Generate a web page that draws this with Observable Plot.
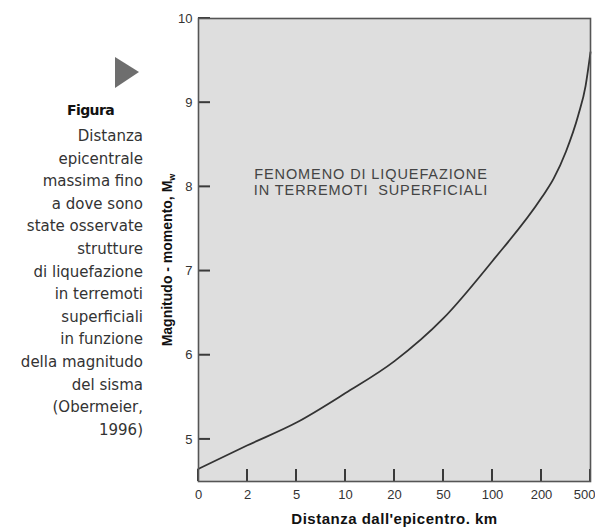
<!DOCTYPE html>
<html>
<head>
<meta charset="utf-8">
<script src="https://cdn.jsdelivr.net/npm/d3@7"></script>
<script src="https://cdn.jsdelivr.net/npm/@observablehq/plot@0.6"></script>
<style>
  html, body { margin: 0; padding: 0; background: #fff; overflow: hidden; }
  #wrap { position: relative; width: 595px; height: 532px; }
  #chart { position: absolute; left: 0; top: 0; }
  svg text { white-space: pre; }
  #caption { position: absolute; left: 0; top: 125px; width: 143px; text-align: right;
    font-family: "DejaVu Sans", sans-serif; font-size: 15px; line-height: 22.6px; color: #333; letter-spacing: 0px; }
  #fig { position: absolute; left: 67px; top: 100px; width: 50px; font-family: "DejaVu Sans", sans-serif;
    font-weight: bold; font-size: 14px; color: #111; letter-spacing: -0.6px; line-height: 20px; }
  #tri { position: absolute; left: 100px; top: 50px; }
</style>
</head>
<body>
<div id="wrap">
  <div id="chart"></div>
  <svg id="tri" width="45" height="45"><polygon points="15,7 15,38 39,22" fill="#6e6e6e"/></svg>
  <div id="fig"></div>
  <div id="caption"></div>
</div>
<script>
// ---- data ----
const xTickKm = [0, 2, 5, 10, 20, 50, 100, 200, 500];
const xTickLabels = ["0", "2", "5", "10", "20", "50", "100", "200", "500"];
const yTicks = [5, 6, 7, 8, 9, 10];
const curveKm  = [0,    2,    5,    10,   20,   50,   100,  200,  275,  350,  425,  470,  500];
const curveMag = [4.65, 4.93, 5.2,  5.55, 5.93, 6.44, 7.12, 7.87, 8.1,  8.42, 8.85, 9.2,  9.6];
const xLabel = "Distanza dall'epicentro. km";
const yLabel = "Magnitudo - momento, M";
const yLabelSub = "w";
const annotationLines = ["FENOMENO DI LIQUEFAZIONE", "IN TERREMOTI  SUPERFICIALI"];
const annotationAt = {km: 15.2, mag: 8.06};
const figTitle = "Figura";
const captionLines = ["Distanza", "epicentrale", "massima fino", "a dove sono", "state osservate",
  "strutture", "di liquefazione", "in terremoti", "superficiali", "in funzione",
  "della magnitudo", "del sisma", "(Obermeier,", "1996)"];

// evenly spaced distance axis (one step per tick value)
const pos = d3.scaleLinear().domain(xTickKm).range(xTickKm.map((_, i) => i));
const curve = curveKm.map((km, i) => ({km, mag: curveMag[i]}));
const lastPos = pos(xTickKm[xTickKm.length - 1]);
const xDom = [0, xTickKm.length - 1];
const yDom = [4.5, 10];
const W = 595, H = 532, mL = 198, mR = 5, mT = 18, mB = 51;
// tick size in px converted to scale units
const pxX = (xDom[1] - xDom[0]) / (W - mL - mR);
const pxY = (yDom[1] - yDom[0]) / (H - mT - mB);
const TICK_LEN = 12, TICK_W = 2;

// tick marks as small filled rectangles
const xTickRects = xTickKm.map(km => ({
  x1: pos(km) - pxX * TICK_W / 2, x2: pos(km) + pxX * TICK_W / 2,
  y1: yDom[0], y2: yDom[0] + pxY * TICK_LEN}));
const yTickRects = yTicks.map(m => ({
  x1: xDom[0], x2: xDom[0] + pxX * TICK_LEN,
  y1: m - pxY * TICK_W / 2, y2: m + pxY * TICK_W / 2}));

const chart = Plot.plot({
  width: W, height: H,
  marginLeft: mL, marginRight: mR, marginTop: mT, marginBottom: mB,
  x: {domain: xDom},
  y: {domain: yDom},
  style: {fontFamily: "'Liberation Sans', Arial, sans-serif", fontSize: "13px", color: "#333", background: "transparent"},
  marks: [
    Plot.frame({fill: "#dedede"}),
    Plot.line(curve, {x: d => pos(d.km), y: "mag", curve: "monotone-x", stroke: "#333", strokeWidth: 1.8}),
    Plot.text([annotationLines.join("\n")], {x: () => pos(annotationAt.km), y: () => annotationAt.mag, text: d => d,
      fontSize: 14.5, fill: "#444", lineHeight: 1.1, textAnchor: "middle"}),
    Plot.rect(xTickRects, {x1: "x1", x2: "x2", y1: "y1", y2: "y2", fill: "#3a3a3a", inset: 0}),
    Plot.rect(yTickRects, {x1: "x1", x2: "x2", y1: "y1", y2: "y2", fill: "#3a3a3a", inset: 0}),
    Plot.axisX(xTickKm.slice(0, -1).map(pos), {tickSize: 0, tickPadding: 8, tickFormat: d => xTickLabels[Math.round(d)],
      label: null, fill: "#333"}),
    Plot.axisX([lastPos], {tickSize: 0, tickPadding: 8, tickFormat: d => xTickLabels[Math.round(d)],
      label: null, fill: "#333", textAnchor: "end", dx: 5}),
    Plot.axisY(yTicks, {tickSize: 0, tickPadding: 6, tickFormat: d => String(d), label: null, fill: "#333"}),
    Plot.frame({stroke: "#555", strokeWidth: 1.6}),
    Plot.text([xLabel], {frameAnchor: "bottom", dy: 42, fontWeight: "bold", fontSize: 15, fill: "#111"}),
    Plot.text([yLabel], {frameAnchor: "left", dx: -31, dy: 10, rotate: -90, textAnchor: "middle", fontWeight: "bold", fontSize: 14,
      fill: "#111"})
  ]
});
document.getElementById("chart").appendChild(chart);

// post-styling of a few texts
for (const t of chart.querySelectorAll("text")) {
  const s = t.textContent;
  if (s === yLabel) {
    const ts = document.createElementNS("http://www.w3.org/2000/svg", "tspan");
    ts.setAttribute("dy", "0.3em");
    ts.setAttribute("font-size", "9");
    ts.textContent = yLabelSub;
    t.appendChild(ts);
  } else if (s === xLabel) {
    t.style.letterSpacing = "0.5px";
  } else if (s.startsWith(annotationLines[0].slice(0, 8))) {
    t.style.letterSpacing = "0.9px";
  }
}

document.getElementById("fig").textContent = figTitle;
document.getElementById("caption").innerHTML = captionLines.map(s => `<div>${s}</div>`).join("");
</script>
</body>
</html>
